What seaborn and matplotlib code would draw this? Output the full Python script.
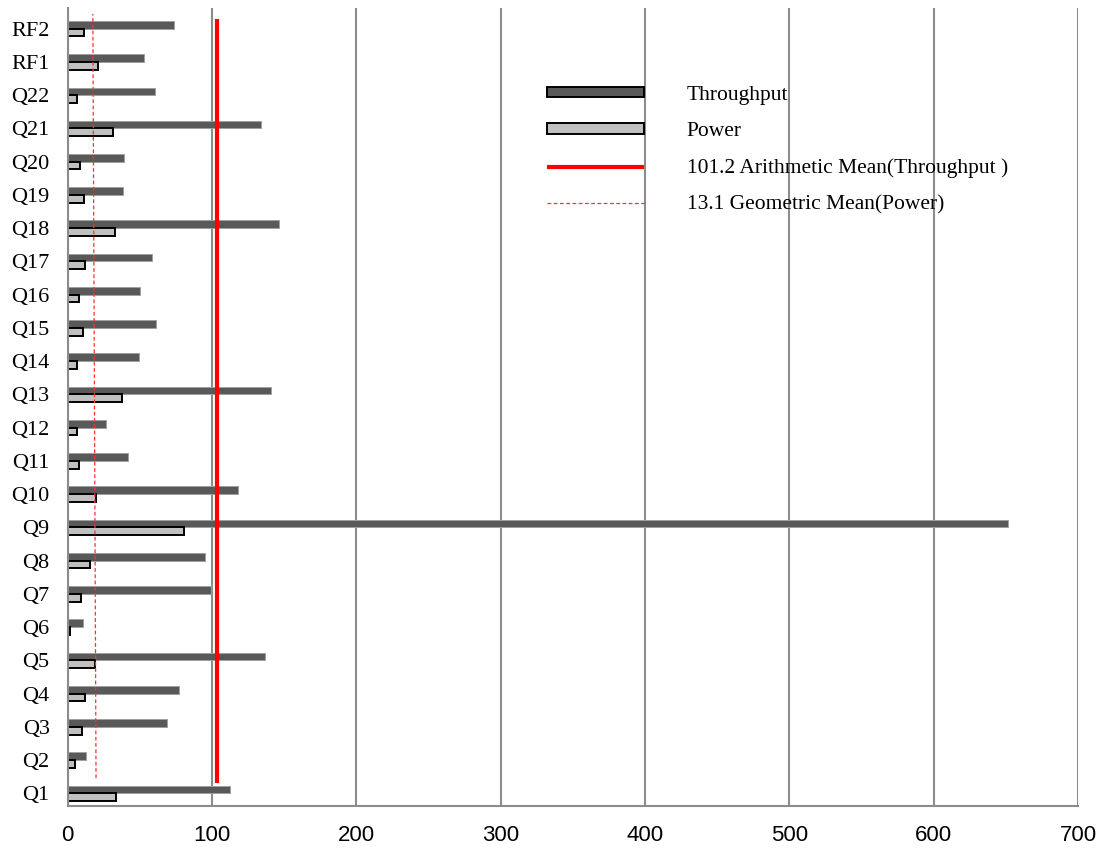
import numpy as np
import pandas as pd
import seaborn as sns
import matplotlib.pyplot as plt
from matplotlib.patches import Patch
from matplotlib.lines import Line2D

# values
queries = ['Q1', 'Q2', 'Q3', 'Q4', 'Q5', 'Q6', 'Q7', 'Q8', 'Q9', 'Q10', 'Q11', 'Q12',
           'Q13', 'Q14', 'Q15', 'Q16', 'Q17', 'Q18', 'Q19', 'Q20', 'Q21', 'Q22', 'RF1', 'RF2']
throughput = [112.3, 12.5, 68.6, 77.3, 136.5, 10.8, 99.1, 95.4, 651.6, 118.0, 41.6, 26.3,
              140.7, 49.6, 61.4, 50.3, 58.6, 146.4, 38.1, 39.0, 133.7, 60.5, 52.6, 73.7]
power = [33.3, 5.3, 10.1, 12.2, 19.1, 1.4, 9.0, 15.7, 80.6, 19.6, 8.0, 6.4,
         37.4, 6.4, 10.6, 7.8, 11.8, 32.8, 11.5, 8.5, 31.2, 6.4, 20.8, 11.5]

arith_mean = 101.2
geo_mean = 13.1
# where the two mean lines sit on the x scale (bottom end, top end)
arith_line_x = [103.3, 103.3]
geo_line_x = [19.6, 17.4]

order = queries[::-1]
n = len(order)

df = pd.DataFrame({
    'query': queries * 2,
    'metric': ['Throughput'] * n + ['Power'] * n,
    'value': throughput + power,
})

sns.set_style("white")
plt.rcParams['font.family'] = ['Liberation Serif', 'DejaVu Serif']
plt.rcParams['text.color'] = 'black'

fig = plt.figure(figsize=(11.05, 8.55), dpi=100)
ax = fig.add_axes([0.0613, 0.0573, 0.9143, 0.9333])

sns.barplot(
    data=df, y='query', x='value', hue='metric',
    order=order, hue_order=['Throughput', 'Power'],
    palette={'Throughput': '#595959', 'Power': '#c0c0c0'},
    width=0.46, orient='h', saturation=1, legend=False, ax=ax, zorder=2,
)

for bar in ax.containers[0]:
    bar.set_edgecolor('#a0a0a0')
    bar.set_linewidth(0.7)
for bar in ax.containers[1]:
    bar.set_edgecolor('black')
    bar.set_linewidth(1.4)

# mean lines
ax.plot(arith_line_x, [order.index('Q1') - 0.31, order.index('RF2') - 0.29],
        color='red', lw=3.0, solid_capstyle='butt', zorder=3)
ax.plot(geo_line_x, [order.index('Q1') - 0.46, order.index('RF2') - 0.44],
        color='#ff3030', lw=0.9, dashes=(3, 2), zorder=3)

# category bands sit slightly above the bars, as in the original
shift = 0.12
ax.set_xlim(0, 700)
ax.set_ylim(n - 0.5 - shift, -0.5 - shift)
ax.set_xticks(np.arange(0, 701, 100))
ax.set_xlabel('')
ax.set_ylabel('')

ax.set_axisbelow(True)
ax.xaxis.grid(True, color='#8c8c8c', lw=1.5)
ax.yaxis.grid(False)

for side in ['top', 'right']:
    ax.spines[side].set_visible(False)
for side in ['left', 'bottom']:
    ax.spines[side].set_color('#8c8c8c')
    ax.spines[side].set_linewidth(1.5)

ax.set_yticks(range(n))
ax.set_yticklabels(order)
ax.set_yticks(np.arange(-0.5, n, 1) - shift, minor=True)
ax.tick_params(axis='y', which='major', length=0, pad=13, labelsize=16, labelcolor='black')
ax.tick_params(axis='y', which='minor', length=6, width=1.5, color='#8c8c8c')
ax.tick_params(axis='x', which='major', length=6, width=1.5, color='#8c8c8c',
               pad=8, labelsize=16, labelcolor='black')
for label in ax.get_xticklabels():
    label.set_fontfamily(['Liberation Sans', 'DejaVu Sans'])

handles = [
    Patch(facecolor='#595959', edgecolor='black', linewidth=1.4),
    Patch(facecolor='#c0c0c0', edgecolor='black', linewidth=1.4),
    Line2D([], [], color='red', lw=3.0, solid_capstyle='butt'),
    Line2D([], [], color='#ff3030', lw=0.9, dashes=(3, 2)),
]
labels = [
    'Throughput',
    'Power',
    f'{arith_mean} Arithmetic Mean(Throughput )',
    f'{geo_mean} Geometric Mean(Power)',
]
fig.legend(
    handles, labels,
    loc='upper left', bbox_to_anchor=(547 / 1105, 1 - 86 / 855),
    frameon=False, fontsize=15.5, handlelength=4.5, handleheight=0.35,
    handletextpad=2.0, labelspacing=0.8, borderpad=0, borderaxespad=0,
    labelcolor='black',
)

plt.savefig('out.png', dpi=100)
plt.close()
